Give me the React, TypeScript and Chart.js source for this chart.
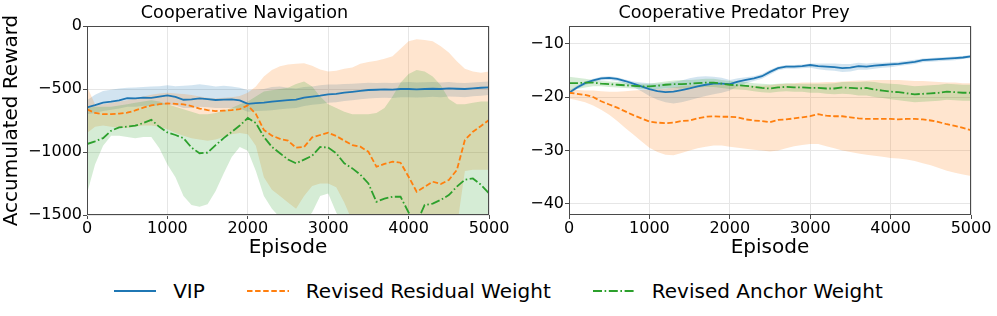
import React, { useEffect, useRef } from 'react';
import { Chart, registerables } from 'chart.js';

Chart.register(...registerables);

const FONT = "'DejaVu Sans', 'Liberation Sans', sans-serif";
const BLUE = '#1f77b4';
const ORANGE = '#ff7f0e';
const GREEN = '#2ca02c';
const BLUE_FILL = 'rgba(31,119,180,0.2)';
const ORANGE_FILL = 'rgba(255,127,14,0.2)';
const GREEN_FILL = 'rgba(44,160,44,0.2)';
const GRID = '#e6e6e6';
const FRAME = '#4a4a4a';

const SERIES_NAMES = ['VIP', 'Revised Residual Weight', 'Revised Anchor Weight'];
const PANEL_TITLES = ['Cooperative Navigation', 'Cooperative Predator Prey'];
const X_TITLE = 'Episode';
const Y_TITLE = 'Accumulated Reward';

const X_TICKS = [0, 1000, 2000, 3000, 4000, 5000];
const NAV_Y_TICKS = [0, -500, -1000, -1500];
const PP_Y_TICKS = [-10, -20, -30, -40];

const EPISODES = [
  0, 100, 200, 300, 400, 500, 600, 700, 800, 900, 1000,
  1100, 1200, 1300, 1400, 1500, 1600, 1700, 1800, 1900, 2000,
  2100, 2200, 2300, 2400, 2500, 2600, 2700, 2800, 2900, 3000,
  3100, 3200, 3300, 3400, 3500, 3600, 3700, 3800, 3900, 4000,
  4100, 4200, 4300, 4400, 4500, 4600, 4700, 4800, 4900, 5000,
];

// ---- Cooperative Navigation ----
const NAV_VIP = [
  -646, -628, -608, -600, -590, -572, -575, -568, -570, -560, -550,
  -562, -585, -583, -575, -580, -587, -584, -582, -590, -618,
  -612, -608, -600, -594, -588, -584, -568, -560, -552, -542,
  -538, -528, -522, -515, -508, -506, -503, -505, -500, -500,
  -503, -500, -498, -500, -495, -498, -500, -495, -490, -487,
];
const NAV_VIP_HI = [
  -590, -545, -515, -505, -495, -490, -488, -485, -480, -478, -470,
  -478, -475, -470, -462, -470, -480, -475, -480, -490, -510,
  -505, -500, -485, -480, -490, -495, -485, -480, -470, -465,
  -465, -460, -458, -455, -450, -452, -450, -452, -448, -445,
  -448, -446, -445, -448, -445, -450, -452, -448, -445, -440,
];
const NAV_VIP_LO = [
  -700, -690, -675, -665, -655, -640, -640, -632, -635, -628, -620,
  -630, -650, -650, -640, -645, -650, -650, -650, -655, -680,
  -675, -672, -668, -660, -655, -650, -635, -625, -618, -610,
  -605, -596, -590, -582, -575, -572, -570, -572, -566, -565,
  -568, -565, -562, -565, -560, -562, -565, -558, -553, -548,
];
const NAV_RRW = [
  -661, -690, -700, -700, -695, -688, -670, -648, -630, -620, -614,
  -618, -622, -635, -655, -667, -675, -672, -668, -660, -630,
  -698, -825, -870, -895, -910, -966, -960, -884, -865, -847,
  -873, -910, -945, -958, -998, -1117, -1095, -1077, -1085, -1196,
  -1315, -1276, -1236, -1254, -1222, -1143, -905, -839, -794, -746,
];
const NAV_RRW_HI = [
  -480, -620, -620, -610, -600, -590, -575, -560, -545, -535, -530,
  -535, -540, -548, -560, -570, -575, -570, -565, -555, -530,
  -480, -400, -350, -320, -305, -300, -295, -315, -345, -360,
  -355, -340, -330, -300, -285, -275, -260, -240, -180, -120,
  -105, -110, -120, -160, -210, -280, -340, -360, -370, -360,
];
const NAV_RRW_LO = [
  -850, -800, -790, -800, -810, -810, -800, -790, -790, -800, -820,
  -850, -870, -890, -900, -910, -900, -880, -860, -850, -860,
  -950, -1200, -1300, -1350, -1400, -1450, -1350, -1270, -1250, -1250,
  -1280, -1400, -1550, -1600, -1600, -1600, -1600, -1600, -1600, -1600,
  -1600, -1600, -1600, -1600, -1600, -1600, -1150, -1140, -1140, -1140,
];
const NAV_RAW = [
  -937, -915, -890, -831, -805, -798, -791, -770, -745, -800, -845,
  -865, -890, -965, -1010, -1005, -945, -890, -840, -790, -730,
  -770, -880, -960, -1010, -1060, -1090, -1060, -1030, -960, -965,
  -1010, -1090, -1130, -1180, -1250, -1395, -1370, -1355, -1355, -1480,
  -1560, -1420, -1410, -1380, -1342, -1275, -1220, -1210, -1260, -1328,
];
const NAV_RAW_HI = [
  -650, -640, -640, -640, -630, -620, -610, -600, -590, -600, -620,
  -640, -660, -680, -700, -700, -690, -670, -650, -620, -600,
  -560, -520, -510, -500, -490, -460, -440, -480, -560, -620,
  -650, -680, -700, -700, -700, -690, -650, -560, -450, -380,
  -350, -360, -400, -470, -580, -620, -620, -610, -600, -600,
];
const NAV_RAW_LO = [
  -1330, -1100, -950, -870, -870, -880, -890, -880, -880, -970, -1100,
  -1200, -1350, -1420, -1435, -1415, -1310, -1170, -1040, -960, -990,
  -1150, -1350, -1450, -1520, -1600, -1600, -1560, -1480, -1350, -1330,
  -1480, -1600, -1600, -1600, -1600, -1600, -1600, -1600, -1600, -1600,
  -1600, -1600, -1600, -1600, -1600, -1600, -1600, -1600, -1600, -1600,
];

// ---- Cooperative Predator Prey ----
const PP_VIP = [
  -19.2, -18.2, -17.4, -16.9, -16.5, -16.4, -16.6, -17.0, -17.5, -18.0, -18.5,
  -18.9, -19.1, -19.0, -18.7, -18.4, -18.0, -17.7, -17.5, -17.5, -17.6,
  -17.1, -16.8, -16.5, -16.1, -15.3, -14.6, -14.3, -14.3, -14.2, -14.0,
  -14.2, -14.3, -14.4, -14.6, -14.5, -14.2, -14.3, -14.1, -14.0, -13.9,
  -13.8, -13.6, -13.4, -13.1, -13.0, -12.9, -12.8, -12.7, -12.6, -12.4,
];
const PP_VIP_HI = [
  -18.8, -17.9, -17.1, -16.6, -16.2, -16.1, -16.3, -16.7, -17.1, -17.3, -17.4,
  -17.5, -17.4, -17.2, -16.9, -16.5, -16.2, -16.1, -16.2, -16.4, -16.8,
  -16.5, -16.3, -16.1, -15.7, -14.9, -14.3, -14.0, -14.0, -13.9, -13.7,
  -13.7, -13.7, -13.7, -13.8, -13.8, -13.6, -13.7, -13.6, -13.6, -13.5,
  -13.4, -13.2, -13.0, -12.8, -12.7, -12.6, -12.5, -12.4, -12.3, -12.1,
];
const PP_VIP_LO = [
  -19.6, -18.5, -17.8, -17.3, -16.9, -16.8, -17.0, -17.5, -18.1, -18.9, -19.8,
  -20.5, -21.0, -21.2, -21.0, -20.6, -20.2, -19.8, -19.5, -19.2, -18.8,
  -18.0, -17.4, -17.0, -16.6, -15.8, -15.0, -14.7, -14.7, -14.6, -14.5,
  -14.8, -15.0, -15.1, -15.3, -15.2, -14.9, -14.9, -14.7, -14.5, -14.4,
  -14.2, -14.0, -13.8, -13.5, -13.4, -13.3, -13.2, -13.1, -12.9, -12.7,
];
const PP_RRW = [
  -19.2, -19.4, -19.6, -20.0, -20.8, -21.4, -22.0, -22.7, -23.4, -24.0, -24.6,
  -24.8, -24.9, -24.8, -24.5, -24.4, -24.0, -23.7, -23.6, -23.7, -23.7,
  -23.8, -24.2, -24.4, -24.5, -24.7, -24.3, -24.2, -24.0, -23.8, -23.6,
  -23.2, -23.5, -23.6, -23.6, -23.8, -24.0, -24.1, -24.1, -24.1, -24.1,
  -24.2, -24.1, -24.1, -24.2, -24.4, -24.7, -25.1, -25.4, -25.8, -26.2,
];
const PP_RRW_HI = [
  -18.5, -18.7, -18.8, -18.8, -18.9, -19.0, -19.0, -18.9, -18.8, -18.7, -18.6,
  -18.5, -18.4, -18.2, -18.0, -17.9, -17.8, -17.7, -17.7, -17.7, -17.8,
  -17.8, -17.9, -17.9, -17.9, -17.8, -17.6, -17.5, -17.4, -17.3, -17.3,
  -17.3, -17.2, -17.2, -17.1, -17.0, -16.9, -16.9, -16.8, -16.8, -16.8,
  -16.8, -16.9, -17.0, -17.0, -17.1, -17.2, -17.3, -17.3, -17.4, -17.4,
];
const PP_RRW_LO = [
  -20.3, -20.6, -21.0, -21.6, -22.4, -23.3, -24.5, -25.8, -27.0, -28.3, -29.5,
  -30.3, -30.8, -30.9, -30.5, -30.0, -29.6, -29.3, -29.1, -29.1, -29.3,
  -29.5, -29.7, -29.9, -30.0, -30.2, -30.0, -29.6, -29.2, -29.0, -28.8,
  -28.8, -29.2, -29.6, -30.0, -30.3, -30.6, -30.8, -31.0, -31.2, -31.4,
  -31.5, -31.7, -32.0, -32.4, -32.8, -33.3, -33.8, -34.2, -34.5, -34.8,
];
const PP_RAW = [
  -17.4, -17.4, -17.3, -17.3, -17.5, -17.6, -17.7, -17.8, -17.9, -18.0, -18.0,
  -17.9, -17.7, -17.6, -17.6, -17.5, -17.4, -17.3, -17.3, -17.5, -17.7,
  -17.8, -17.9, -18.1, -18.3, -18.4, -18.2, -18.1, -18.2, -18.2, -18.3,
  -18.3, -18.4, -18.4, -18.2, -18.3, -18.4, -18.3, -18.6, -18.8, -19.0,
  -19.1, -19.3, -19.5, -19.4, -19.3, -19.2, -19.0, -19.1, -19.2, -19.2,
];
const PP_RAW_HI = [
  -16.2, -16.4, -16.6, -16.8, -17.0, -17.1, -17.2, -17.3, -17.4, -17.5, -17.5,
  -17.3, -17.1, -16.9, -16.8, -16.8, -16.7, -16.6, -16.6, -16.8, -17.0,
  -17.1, -17.2, -17.4, -17.5, -17.6, -17.5, -17.4, -17.5, -17.5, -17.5,
  -17.5, -17.5, -17.4, -17.2, -17.2, -17.2, -17.1, -17.2, -17.4, -17.5,
  -17.6, -17.8, -18.0, -17.9, -17.8, -17.7, -17.5, -17.6, -17.7, -17.7,
];
const PP_RAW_LO = [
  -18.7, -18.5, -18.2, -18.0, -18.0, -18.1, -18.2, -18.3, -18.4, -18.5, -18.5,
  -18.5, -18.3, -18.3, -18.4, -18.3, -18.2, -18.1, -18.1, -18.3, -18.5,
  -18.6, -18.7, -18.9, -19.1, -19.2, -19.0, -18.9, -19.0, -19.0, -19.2,
  -19.2, -19.4, -19.5, -19.4, -19.5, -19.7, -19.7, -20.0, -20.2, -20.4,
  -20.6, -20.8, -21.0, -20.9, -20.8, -20.7, -20.5, -20.6, -20.7, -20.7,
];

const COLORS = [BLUE, ORANGE, GREEN];
const FILLS = [BLUE_FILL, ORANGE_FILL, GREEN_FILL];
const DASHES: number[][] = [[], [5.5, 2.5], [9, 2.5, 1.6, 2.5]];
const SVG_DASHES = ['', '5.5 2.6', '9 2.6 1.6 2.6'];

const fmt = (v: any) => {
  const n = Number(v);
  return n < 0 ? '\u2212' + Math.abs(n) : String(n);
};

const pts = (ys: number[]) => EPISODES.map((x, i) => ({ x, y: ys[i] }));

const framePlugin = {
  id: 'frame',
  afterDatasetsDraw(chart: any) {
    const { ctx, chartArea: a } = chart;
    ctx.save();
    ctx.strokeStyle = FRAME;
    ctx.lineWidth = 1;
    ctx.strokeRect(Math.round(a.left) + 0.5, Math.round(a.top) + 0.5,
      Math.round(a.right - a.left) - 1, Math.round(a.bottom - a.top) - 1);
    ctx.restore();
  },
};

type PanelProps = {
  title: string;
  means: number[][];
  his: number[][];
  los: number[][];
  yMin: number;
  yMax: number;
  yTicks: number[];
  yTitle?: string;
  yAxisWidth: number;
  padRight: number;
  width: number;
  height: number;
  left: number;
};

function Panel(p: PanelProps) {
  const ref = useRef<HTMLCanvasElement>(null);
  useEffect(() => {
    if (!ref.current) return;
    const datasets: any[] = [];
    for (let s = 0; s < 3; s++) {
      datasets.push({
        data: pts(p.his[s]), borderWidth: 0, borderColor: 'rgba(0,0,0,0)',
        pointRadius: 0, fill: false, order: 20 - s,
      });
      datasets.push({
        data: pts(p.los[s]), borderWidth: 0, borderColor: 'rgba(0,0,0,0)',
        backgroundColor: FILLS[s], pointRadius: 0, fill: '-1', order: 20 - s,
      });
    }
    for (let s = 0; s < 3; s++) {
      datasets.push({
        label: SERIES_NAMES[s], data: pts(p.means[s]), borderColor: COLORS[s],
        borderWidth: 1.8, borderDash: DASHES[s], pointRadius: 0, fill: false,
        order: 5 - s,
      });
    }
    const chart = new Chart(ref.current, {
      type: 'line',
      data: { datasets },
      options: {
        responsive: false,
        animation: false,
        devicePixelRatio: 1,
        layout: { padding: { left: 0, right: p.padRight, top: 0, bottom: 0 } },
        elements: { line: { tension: 0 }, point: { radius: 0 } },
        plugins: {
          legend: { display: false },
          tooltip: { enabled: false },
          title: {
            display: true, text: p.title, color: '#000',
            font: { family: FONT, size: 17.6, weight: 'normal' },
            padding: { top: 2.5, bottom: 2.4 },
          },
        },
        scales: {
          x: {
            type: 'linear', min: 0, max: 5000,
            afterBuildTicks: (s: any) => { s.ticks = X_TICKS.map((v) => ({ value: v })); },
            afterFit: (s: any) => { s.height = 45; },
            ticks: {
              color: '#000', font: { family: FONT, size: 16 }, padding: 0,
              maxRotation: 0, autoSkip: false, callback: fmt,
            },
            grid: { color: GRID, tickColor: FRAME, tickLength: 4, lineWidth: 1 },
            border: { display: false },
            title: {
              display: true, text: X_TITLE, color: '#000',
              font: { family: FONT, size: 20 }, padding: { top: 0, bottom: 0 },
            },
          },
          y: {
            type: 'linear', min: p.yMin, max: p.yMax,
            afterBuildTicks: (s: any) => { s.ticks = p.yTicks.map((v) => ({ value: v })); },
            afterFit: (s: any) => { s.width = p.yAxisWidth; },
            ticks: {
              color: '#000', font: { family: FONT, size: 16 }, padding: 1,
              autoSkip: false, callback: fmt,
            },
            grid: { color: GRID, tickColor: FRAME, tickLength: 4, lineWidth: 1 },
            border: { display: false },
            title: {
              display: !!p.yTitle, text: p.yTitle || '', color: '#000',
              font: { family: FONT, size: 20 }, padding: { top: 0, bottom: 0 },
            },
          },
        },
      } as any,
      plugins: [framePlugin],
    });
    return () => chart.destroy();
  }, []);
  return (
    <canvas
      ref={ref}
      width={p.width}
      height={p.height}
      style={{ position: 'absolute', left: p.left, top: 0, width: p.width, height: p.height }}
    />
  );
}

function LegendSwatch({ i }: { i: number }) {
  return (
    <svg width={42} height={10} style={{ display: 'block' }}>
      <line x1={0} y1={5} x2={42} y2={5} stroke={COLORS[i]} strokeWidth={2}
        strokeDasharray={SVG_DASHES[i] || undefined} />
    </svg>
  );
}

export default function App() {
  return (
    <div style={{ position: 'absolute', left: 0, top: 0, width: 997, height: 316, background: '#fff', overflow: 'hidden' }}>
      <Panel
        title={PANEL_TITLES[0]}
        means={[NAV_VIP, NAV_RRW, NAV_RAW]}
        his={[NAV_VIP_HI, NAV_RRW_HI, NAV_RAW_HI]}
        los={[NAV_VIP_LO, NAV_RRW_LO, NAV_RAW_LO]}
        yMin={-1500} yMax={0} yTicks={NAV_Y_TICKS} yTitle={Y_TITLE}
        yAxisWidth={87} padRight={41} width={530} height={260} left={0}
      />
      <Panel
        title={PANEL_TITLES[1]}
        means={[PP_VIP, PP_RRW, PP_RAW]}
        his={[PP_VIP_HI, PP_RRW_HI, PP_RAW_HI]}
        los={[PP_VIP_LO, PP_RRW_LO, PP_RAW_LO]}
        yMin={-42.1} yMax={-6.7} yTicks={PP_Y_TICKS}
        yAxisWidth={72} padRight={26} width={500} height={260} left={497}
      />
      <div style={{
        position: 'absolute', left: 0, top: 276, width: 997, height: 30,
        display: 'flex', justifyContent: 'center', alignItems: 'center',
        fontFamily: FONT, fontSize: 20, color: '#000', whiteSpace: 'nowrap',
      }}>
        {SERIES_NAMES.map((name, i) => (
          <div key={name} style={{ display: 'flex', alignItems: 'center', marginLeft: i ? 42 : 0 }}>
            <LegendSwatch i={i} />
            <span style={{ marginLeft: 17 }}>{name}</span>
          </div>
        ))}
      </div>
    </div>
  );
}
